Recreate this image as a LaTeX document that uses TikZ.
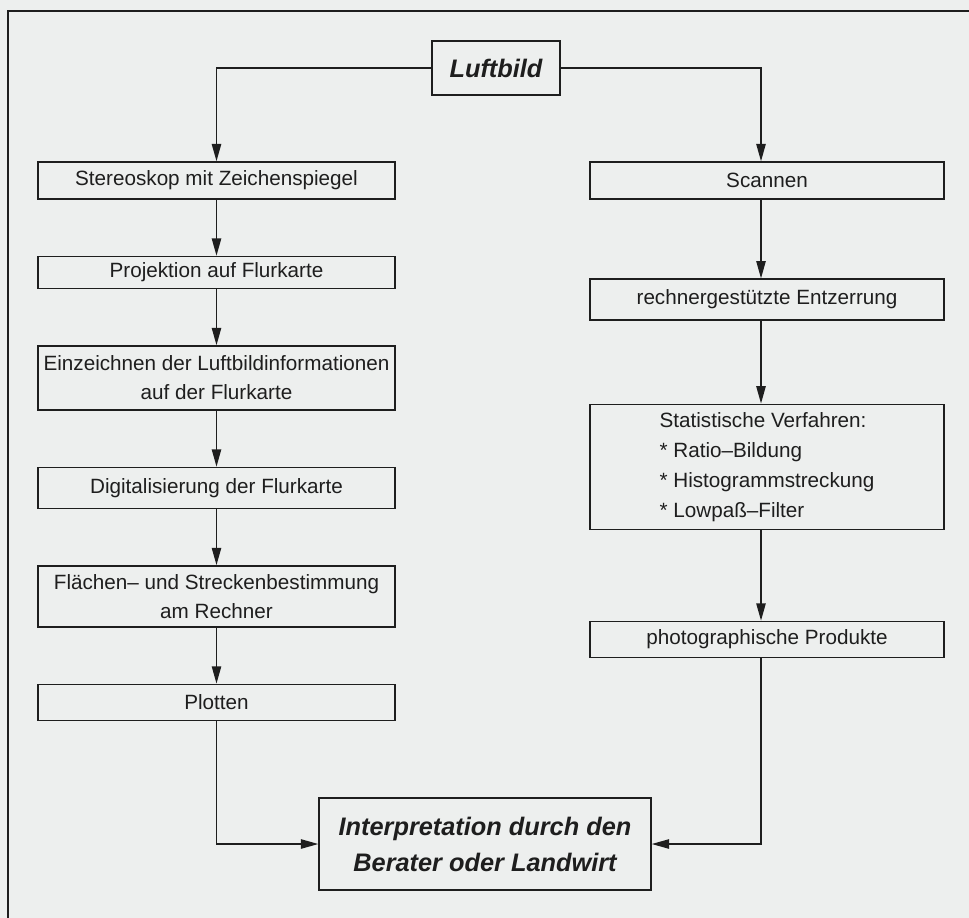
\documentclass[tikz,border=0pt]{standalone}
\usepackage{fontspec}
\setmainfont{Liberation Sans}
\usepackage{tikz}
\usetikzlibrary{arrows.meta}
\usetikzlibrary{positioning}

\definecolor{paper}{RGB}{237,239,238}
\definecolor{ink}{RGB}{30,30,30}

\tikzset{
  box/.style={draw=ink, line width=1.1pt, rectangle, inner sep=0pt, align=center,
    font=\fontsize{15.5}{22}\selectfont, text=ink},
  leftbox/.style={box, minimum width=268pt},
  rightbox/.style={box, minimum width=265.5pt},
  headbox/.style={box, font=\fontsize{19}{27}\selectfont\bfseries\itshape},
  arr/.style={draw=ink, line width=1.1pt, -{Triangle[length=13pt,width=7pt]}},
}

\begin{document}
\begin{tikzpicture}[x=0.75pt, y=-0.75pt]
          \useasboundingbox (0,0) rectangle (969,917);
          \fill[paper] (-5,-5) rectangle (974,922);
          \draw[ink, line width=2pt] (975,11) -- (8,11) -- (8,925);

          \node[headbox, minimum width=96pt, minimum height=40.5pt] (luft) at (496,68) {Luftbild};

          % left column
          \node[leftbox, minimum height=27.75pt] (stereo) at (216.5,180.5) {Stereoskop mit Zeichenspiegel};
          \node[leftbox, minimum height=24pt, below=42pt of stereo] (proj) {Projektion auf Flurkarte};
          \node[leftbox, minimum height=48pt, below=42pt of proj] (einz) {Einzeichnen der Luftbildinformationen\\auf der Flurkarte};
          \node[leftbox, minimum height=30.75pt, below=42pt of einz] (digi) {Digitalisierung der Flurkarte};
          \node[leftbox, minimum height=45.75pt, below=42pt of digi] (flaech) {Flächen-- und Streckenbestimmung\\am Rechner};
          \node[leftbox, minimum height=27pt, below=42pt of flaech] (plot) {Plotten};

          % right column
          \node[rightbox, minimum height=27.75pt] (scan) at (767,180.5) {Scannen};
          \node[rightbox, minimum height=30.75pt, below=59pt of scan] (entz) {rechnergestützte Entzerrung};
          \node[rightbox, minimum height=93.75pt, below=62pt of entz, font=\fontsize{15.5}{22.5}\selectfont] (stat)
            {\begin{tabular}{@{}l@{}}Statistische Verfahren:\\{*} Ratio--Bildung\\{*} Histogrammstreckung\\{*} Lowpaß--Filter\end{tabular}};
          \node[rightbox, minimum height=27pt, below=68pt of stat] (foto) {photographische Produkte};

          \node[headbox, minimum width=249pt, minimum height=69pt] (interp) at (485,844)
            {Interpretation durch den\\Berater oder Landwirt};

          \draw[arr] (luft.west) -| (stereo.north);
          \draw[arr] (luft.east) -| ([xshift=-4.5pt]scan.north);
          \foreach \a/\b in {stereo/proj, proj/einz, einz/digi, digi/flaech, flaech/plot}
            \draw[arr] (\a) -- (\b);
          \foreach \a/\b in {scan/entz, entz/stat, stat/foto}
            \draw[arr] ([xshift=-4.5pt]\a.south) -- ([xshift=-4.5pt]\b.north);
          \draw[arr] (plot.south) |- (interp.west);
          \draw[arr] ([xshift=-4.5pt]foto.south) |- (interp.east);
        \end{tikzpicture}
\end{document}
